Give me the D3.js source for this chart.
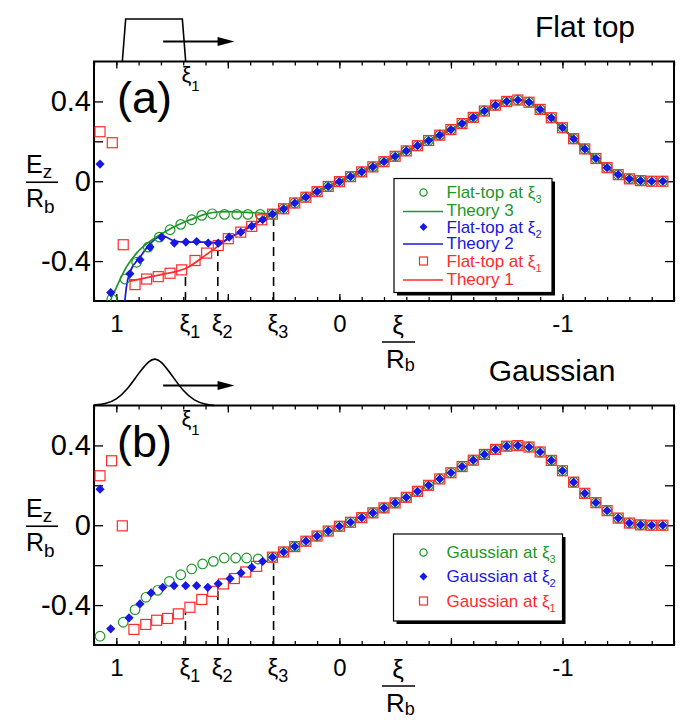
<!DOCTYPE html>
<html>
<head>
<meta charset="utf-8">
<script src="https://cdn.jsdelivr.net/npm/d3@7"></script>
<style>
body { margin: 0; background: #fff; }
text { font-family: "Liberation Sans", Arial, Helvetica, sans-serif; }
</style>
</head>
<body>
<svg id="chart"></svg>
<script>
// ---- values (xi/Rb, Ez/Rb) ----
// shared part of the wake, right of xi3
var xiTail = [0.30, 0.25, 0.20, 0.15, 0.10, 0.05, 0.00, -0.05, -0.10, -0.15, -0.20, -0.25, -0.30, -0.35, -0.40, -0.45, -0.50, -0.55,
              -0.60, -0.65, -0.70, -0.75, -0.80, -0.85, -0.90, -0.95, -1.00, -1.05, -1.10, -1.15, -1.20, -1.25, -1.30, -1.35, -1.40, -1.45];
var ezTailA = [-0.165, -0.138, -0.109, -0.080, -0.052, -0.026, -0.002, 0.023, 0.047, 0.072, 0.098, 0.125, 0.152, 0.178, 0.204, 0.231, 0.259, 0.289,
               0.320, 0.352, 0.381, 0.400, 0.407, 0.396, 0.360, 0.318, 0.268, 0.213, 0.162, 0.114, 0.068, 0.033, 0.012, 0.003, 0.000, 0.000];
var ezTailB = [-0.160, -0.134, -0.107, -0.080, -0.054, -0.029, -0.005, 0.015, 0.038, 0.062, 0.087, 0.112, 0.140, 0.170, 0.200, 0.232, 0.263, 0.294,
               0.326, 0.355, 0.380, 0.396, 0.399, 0.392, 0.367, 0.325, 0.273, 0.216, 0.160, 0.113, 0.073, 0.036, 0.011, 0.002, 0.000, 0.000];

// (a) flat top, simulation
var xiA1 = [1.073, 1.018, 0.969, 0.916, 0.864, 0.812, 0.759, 0.707, 0.647, 0.595, 0.543, 0.498, 0.442, 0.393, 0.348];
var ezA1 = [0.248, 0.193, -0.318, -0.518, -0.490, -0.478, -0.461, -0.444, -0.397, -0.360, -0.322, -0.288, -0.255, -0.226, -0.193];
var xiA2 = [1.073, 1.025, 0.939, 0.894, 0.849, 0.797, 0.740, 0.688, 0.640, 0.588, 0.543, 0.494, 0.442, 0.393, 0.344];
var ezA2 = [0.086, -0.558, -0.464, -0.393, -0.330, -0.280, -0.310, -0.305, -0.302, -0.310, -0.310, -0.280, -0.255, -0.225, -0.193];
var xiA3 = [1.020, 0.961, 0.909, 0.857, 0.807, 0.759, 0.711, 0.662, 0.617, 0.570, 0.515, 0.460, 0.410, 0.355];
var ezA3 = [-0.590, -0.490, -0.406, -0.330, -0.280, -0.243, -0.216, -0.193, -0.171, -0.163, -0.166, -0.166, -0.166, -0.166];

// (a) theory curves
var xiTh1 = [0.939, 0.800, 0.680, 0.600, 0.543, 0.500, 0.450, 0.400, 0.350];
var ezTh1 = [-0.500, -0.468, -0.432, -0.370, -0.325, -0.290, -0.258, -0.228, -0.195];
var xiTh2 = [0.968, 0.962, 0.955, 0.939, 0.894, 0.849, 0.796, 0.745, 0.688, 0.588, 0.543, 0.500, 0.450, 0.400, 0.350];
var ezTh2 = [-0.640, -0.600, -0.532, -0.456, -0.381, -0.314, -0.272, -0.297, -0.305, -0.305, -0.310, -0.288, -0.258, -0.228, -0.195];
var xiTh3 = [1.035, 1.026, 1.006, 0.955, 0.905, 0.854, 0.803, 0.753, 0.702, 0.651, 0.601, 0.550, 0.500, 0.449, 0.398, 0.348];
var ezTh3 = [-0.660, -0.600, -0.548, -0.430, -0.355, -0.305, -0.267, -0.235, -0.208, -0.186, -0.165, -0.154, -0.152, -0.154, -0.157, -0.160];

// (b) gaussian, simulation
var xiB1 = [1.073, 1.021, 0.973, 0.921, 0.868, 0.819, 0.770, 0.722, 0.670, 0.617, 0.568, 0.520, 0.471, 0.420, 0.371];
var ezB1 = [0.248, 0.323, -0.003, -0.522, -0.497, -0.476, -0.467, -0.444, -0.411, -0.372, -0.331, -0.294, -0.267, -0.234, -0.206];
var xiB2 = [1.073, 1.025, 0.943, 0.894, 0.844, 0.792, 0.741, 0.689, 0.640, 0.590, 0.543, 0.490, 0.441, 0.393, 0.344];
var ezB2 = [0.181, -0.519, -0.464, -0.394, -0.339, -0.311, -0.303, -0.303, -0.303, -0.311, -0.293, -0.267, -0.239, -0.211, -0.181];
var xiB3 = [1.073, 0.969, 0.916, 0.867, 0.814, 0.762, 0.711, 0.662, 0.613, 0.565, 0.516, 0.465, 0.416, 0.364];
var ezB3 = [-0.556, -0.486, -0.423, -0.361, -0.326, -0.281, -0.248, -0.219, -0.194, -0.181, -0.164, -0.164, -0.164, -0.169];

// xi1, xi2, xi3 positions and where their dashed markers stop
var xiMarks = [0.690, 0.545, 0.295];
var markTopA = [-0.450, -0.345, -0.190];
var markTopB = [-0.440, -0.330, -0.190];

// driver profiles drawn above each panel (relative height)
var pulseFlatXi = [0.973, 0.958, 0.704, 0.689];
var pulseFlatH = [0, 1, 1, 0];
var pulseGaussXi = [1.10, 1.05, 1.00, 0.95, 0.90, 0.85, 0.826, 0.80, 0.75, 0.70, 0.65, 0.60, 0.56];
var pulseGaussH = [0.01, 0.03, 0.12, 0.34, 0.69, 0.97, 1.00, 0.95, 0.64, 0.30, 0.10, 0.02, 0.00];

var yTickVals = [-0.4, -0.2, 0, 0.2, 0.4];
var yLabelVals = [0.4, 0, -0.4];
var yLabels = ["0.4", "0", "-0.4"];
var xMajor = [1, 0.5, 0, -0.5, -1];
var xLabelVals = [1, 0, -1];
var xLabels = ["1", "0", "-1"];

var green = "#1e9628", blue = "#1818e0", red = "#ff2b2b";

var width = 682, height = 720;
var svg = d3.select("#chart").attr("width", width).attr("height", height);

var x = d3.scaleLinear().domain([1.1, -1.5]).range([94, 674]);
var xMinor = d3.range(-15, 12).map(function(i) { return i / 10; });

function pts(xs, ys) { return xs.map(function(d, i) { return [d, ys[i]]; }); }
function diamondPath(r) { return "M0," + (-r) + "L" + r + ",0L0," + r + "L" + (-r) + ",0Z"; }

var panels = [
  { top: 61.5, label: "(a)", title: "Flat top", titleX: 585,
    sim: [pts(xiA1, ezA1).concat(pts(xiTail, ezTailA)),
          pts(xiA2, ezA2).concat(pts(xiTail, ezTailA)),
          pts(xiA3, ezA3).concat(pts(xiTail, ezTailA))],
    theory: [pts(xiTh1, ezTh1).concat(pts(xiTail, ezTailA)),
             pts(xiTh2, ezTh2).concat(pts(xiTail, ezTailA)),
             pts(xiTh3, ezTh3).concat(pts(xiTail, ezTailA))],
    marks: markTopA,
    pulse: pts(pulseFlatXi, pulseFlatH), pulseH: 42.5, curve: d3.curveLinear,
    legend: { x: 394, y: 178.5, w: 158, h: 114, rows: [
      { t: "circle", c: green, s: "Flat-top at ", n: "3", y: 198 },
      { t: "line", c: green, s: "Theory 3", y: 216 },
      { t: "diamond", c: blue, s: "Flat-top at ", n: "2", y: 232.5 },
      { t: "line", c: blue, s: "Theory 2", y: 248.5 },
      { t: "square", c: red, s: "Flat-top at ", n: "1", y: 266.5 },
      { t: "line", c: red, s: "Theory 1", y: 284.5 }] } },
  { top: 405.5, label: "(b)", title: "Gaussian", titleX: 552,
    sim: [pts(xiB1, ezB1).concat(pts(xiTail, ezTailB)),
          pts(xiB2, ezB2).concat(pts(xiTail, ezTailB)),
          pts(xiB3, ezB3).concat(pts(xiTail, ezTailB))],
    theory: [],
    marks: markTopB,
    pulse: pts(pulseGaussXi, pulseGaussH), pulseH: 47, curve: d3.curveBasis,
    legend: { x: 393.5, y: 534, w: 169, h: 87, rows: [
      { t: "circle", c: green, s: "Gaussian at ", n: "3", y: 558 },
      { t: "diamond", c: blue, s: "Gaussian at ", n: "2", y: 582 },
      { t: "square", c: red, s: "Gaussian at ", n: "1", y: 606.5 }] } }
];

var colors = [red, blue, green];

panels.forEach(function(p, pi) {
  var bot = p.top + 239.5;
  var y = d3.scaleLinear().domain([-0.6, 0.6]).range([bot, p.top]);
  var g = svg.append("g");

  g.append("clipPath").attr("id", "clip" + pi)
    .append("rect").attr("x", 94).attr("y", p.top).attr("width", 580).attr("height", 239.5);

  // driver shape and arrow
  var py = d3.scaleLinear().domain([0, 1]).range([p.top, p.top - p.pulseH]);
  g.append("path")
    .attr("d", d3.line().curve(p.curve).x(function(d) { return x(d[0]); }).y(function(d) { return py(d[1]); })(p.pulse))
    .attr("fill", "none").attr("stroke", "#000").attr("stroke-width", 1.6);
  var ay = p.top - 20;
  g.append("line").attr("x1", x(0.79)).attr("x2", x(0.50)).attr("y1", ay).attr("y2", ay)
    .attr("stroke", "#000").attr("stroke-width", 2.2);
  g.append("path")
    .attr("d", "M" + x(0.47) + "," + ay + "L" + (x(0.47) - 17) + "," + (ay - 4.5) + "L" + (x(0.47) - 17) + "," + (ay + 4.5) + "Z")
    .attr("fill", "#000");

  // title
  g.append("text").attr("x", p.titleX).attr("y", p.top - 25).attr("text-anchor", "middle")
    .attr("font-size", 30).text(p.title);

  // ticks, all four sides, pointing inward
  g.append("g").attr("transform", "translate(0," + bot + ")")
    .call(d3.axisBottom(x).tickValues(xMinor).tickSize(-4).tickFormat(""));
  g.append("g").attr("transform", "translate(0," + bot + ")")
    .call(d3.axisBottom(x).tickValues(xMajor).tickSize(-7).tickFormat(""));
  g.append("g").attr("transform", "translate(0," + p.top + ")")
    .call(d3.axisTop(x).tickValues(xMinor).tickSize(-4).tickFormat(""));
  g.append("g").attr("transform", "translate(0," + p.top + ")")
    .call(d3.axisTop(x).tickValues(xMajor).tickSize(-7).tickFormat(""));
  g.append("g").attr("transform", "translate(94,0)")
    .call(d3.axisLeft(y).tickValues(yTickVals).tickSize(-9).tickFormat(""));
  g.append("g").attr("transform", "translate(674,0)")
    .call(d3.axisRight(y).tickValues(yTickVals).tickSize(-9).tickFormat(""));
  g.selectAll(".domain").remove();
  g.selectAll(".tick line").attr("stroke-width", 1.3);

  // tick labels
  g.append("g").attr("transform", "translate(0," + bot + ")")
    .call(d3.axisBottom(x).tickValues(xLabelVals).tickSize(0).tickPadding(14)
      .tickFormat(function(d, i) { return xLabels[i]; }))
    .attr("font-size", 24).attr("font-family", null)
    .call(function(s) { s.select(".domain").remove(); });
  g.append("g").attr("transform", "translate(94,0)")
    .call(d3.axisLeft(y).tickValues(yLabelVals).tickSize(0).tickPadding(3)
      .tickFormat(function(d, i) { return yLabels[i]; }))
    .attr("font-size", 29).attr("font-family", null)
    .call(function(s) { s.select(".domain").remove(); });

  // frame
  g.append("rect").attr("x", 94).attr("y", p.top).attr("width", 580).attr("height", 239.5)
    .attr("fill", "none").attr("stroke", "#000").attr("stroke-width", 2);

  // dashed markers at xi1, xi2, xi3 and their labels
  xiMarks.forEach(function(m, i) {
    g.append("line").attr("x1", x(m)).attr("x2", x(m)).attr("y1", bot).attr("y2", y(p.marks[i]))
      .attr("stroke", "#000").attr("stroke-width", 1.6).attr("stroke-dasharray", "9,6");
    var t = g.append("text").attr("x", x(m) - 6).attr("y", bot + 31).attr("font-size", 24);
    t.append("tspan").text("ξ");
    t.append("tspan").attr("font-size", 18).attr("dy", 6).text(i + 1);
  });
  var t1 = g.append("text").attr("x", x(xiMarks[0]) - 4).attr("y", p.top + 20).attr("font-size", 22);
  t1.append("tspan").text("ξ");
  t1.append("tspan").attr("font-size", 15).attr("dy", 9).text("1");

  // panel letter
  g.append("text").attr("x", 117).attr("y", p.top + 51.5).attr("font-size", 45).text(p.label);

  // axis titles as fractions
  var fx = 398, fy = bot + 41;
  g.append("text").attr("x", fx).attr("y", fy - 8).attr("text-anchor", "middle").attr("font-size", 26).text("ξ");
  g.append("line").attr("x1", fx - 16).attr("x2", fx + 17).attr("y1", fy).attr("y2", fy).attr("stroke", "#000").attr("stroke-width", 1.6);
  var rb = g.append("text").attr("x", fx - 12).attr("y", fy + 26).attr("font-size", 26);
  rb.append("tspan").text("R");
  rb.append("tspan").attr("font-size", 18).attr("dy", 3).text("b");

  var ey = y(0);
  var ez = g.append("text").attr("x", 26).attr("y", ey - 8).attr("font-size", 25);
  ez.append("tspan").text("E");
  ez.append("tspan").attr("font-size", 19).attr("dy", 5).text("z");
  g.append("line").attr("x1", 26).attr("x2", 58).attr("y1", ey + 1).attr("y2", ey + 1).attr("stroke", "#000").attr("stroke-width", 1.6);
  var er = g.append("text").attr("x", 26).attr("y", ey + 26).attr("font-size", 25);
  er.append("tspan").text("R");
  er.append("tspan").attr("font-size", 19).attr("dy", 6).text("b");

  // data
  var plot = g.append("g").attr("clip-path", "url(#clip" + pi + ")");
  var line = d3.line().curve(d3.curveMonotoneX)
    .x(function(d) { return x(d[0]); }).y(function(d) { return y(d[1]); });
  p.theory.forEach(function(s, i) {
    plot.append("path").attr("d", line(s)).attr("fill", "none")
      .attr("stroke", colors[i]).attr("stroke-width", 1.7);
  });

  plot.selectAll(".c").data(p.sim[2]).enter().append("circle")
    .attr("cx", function(d) { return x(d[0]); }).attr("cy", function(d) { return y(d[1]); })
    .attr("r", 4.8).attr("fill", "none").attr("stroke", green).attr("stroke-width", 1.2);
  plot.selectAll(".s").data(p.sim[0]).enter().append("rect")
    .attr("x", function(d) { return x(d[0]) - 5; }).attr("y", function(d) { return y(d[1]) - 5; })
    .attr("width", 10).attr("height", 10).attr("fill", "none").attr("stroke", red).attr("stroke-width", 1.2);
  plot.selectAll(".d").data(p.sim[1]).enter().append("path")
    .attr("transform", function(d) { return "translate(" + x(d[0]) + "," + y(d[1]) + ")"; })
    .attr("d", diamondPath(4.6)).attr("fill", blue);

  // legend
  var L = p.legend;
  g.append("rect").attr("x", L.x + 3).attr("y", L.y + 3).attr("width", L.w).attr("height", L.h).attr("fill", "#000");
  g.append("rect").attr("x", L.x).attr("y", L.y).attr("width", L.w).attr("height", L.h)
    .attr("fill", "#fff").attr("stroke", "#000").attr("stroke-width", 1.2);
  L.rows.forEach(function(r) {
    var sy = r.y - 5.5, sx = 423.5;
    if (r.t === "circle") {
      g.append("circle").attr("cx", sx).attr("cy", sy).attr("r", 3.6).attr("fill", "none").attr("stroke", r.c).attr("stroke-width", 1.3);
    } else if (r.t === "square") {
      g.append("rect").attr("x", sx - 4).attr("y", sy - 4).attr("width", 8).attr("height", 8).attr("fill", "none").attr("stroke", r.c).attr("stroke-width", 1.2);
    } else if (r.t === "diamond") {
      g.append("path").attr("transform", "translate(" + sx + "," + sy + ")").attr("d", diamondPath(4)).attr("fill", r.c);
    } else {
      g.append("line").attr("x1", 403).attr("x2", 443).attr("y1", r.y - 4.5).attr("y2", r.y - 4.5).attr("stroke", r.c).attr("stroke-width", 1.6);
    }
    var tx = g.append("text").attr("x", 446.5).attr("y", r.y).attr("font-size", 17).attr("fill", r.c);
    tx.append("tspan").text(r.s);
    if (r.n) {
      tx.append("tspan").text("ξ");
      tx.append("tspan").attr("font-size", 11).attr("dy", 5).text(r.n);
    }
  });
});
</script>
</body>
</html>
